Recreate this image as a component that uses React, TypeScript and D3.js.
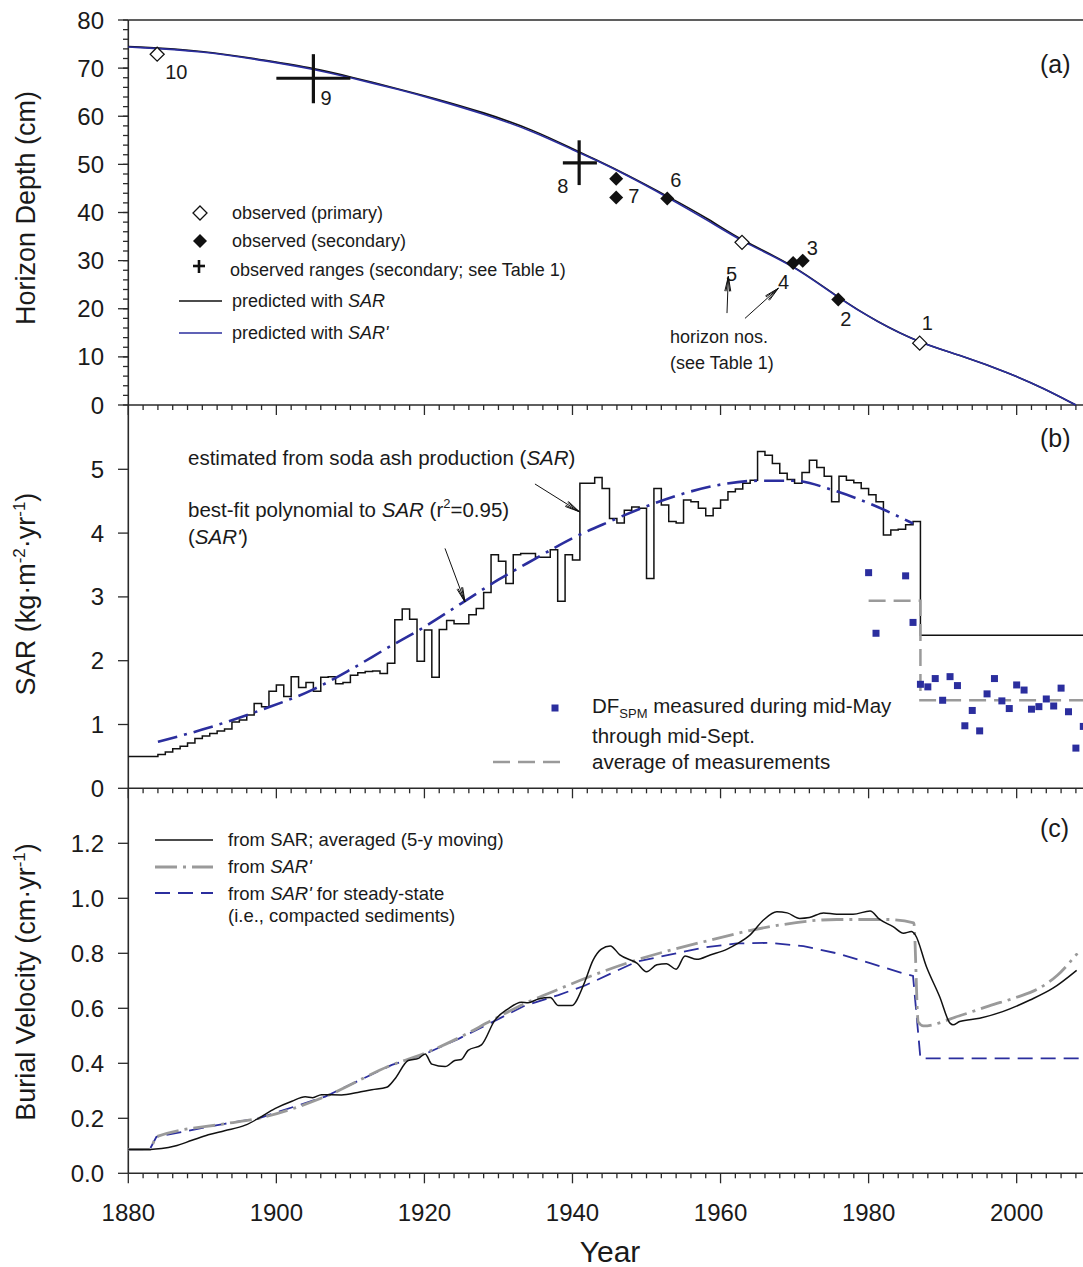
import React from "react";
import * as d3 from "d3";

// ---------- axes / ticks ----------
const YEAR_TICKS = [1880, 1900, 1920, 1940, 1960, 1980, 2000];
const DEPTH_TICKS = [0, 10, 20, 30, 40, 50, 60, 70, 80];
const SAR_TICKS = [0, 1, 2, 3, 4, 5];
const VEL_TICKS = [0, 0.2, 0.4, 0.6, 0.8, 1.0, 1.2];

// ---------- panel (a): horizon depth ----------
const depthSARprime: [number, number][] = [
  [1880, 74.4], [1890, 73.6], [1899, 71.4], [1905, 69.8], [1910, 68.0], [1916.7, 65.5],
  [1921.2, 63.6], [1928, 60.5], [1934.7, 56.9], [1940.6, 52.6], [1943, 51.0], [1947.3, 47.8],
  [1952.7, 43.3], [1958.6, 38.1], [1962.9, 33.9], [1969.8, 29.1], [1975.9, 22.2], [1981.1, 17.3],
  [1986.9, 12.9], [1992.3, 10.4], [1999.1, 6.6], [2003.6, 3.5], [2008, 0],
];
const depthSAR: [number, number][] = [
  [1880, 74.5], [1890, 73.7], [1899, 71.5], [1905, 70.0], [1910, 68.2], [1916.7, 65.6],
  [1921.2, 63.8], [1928, 60.8], [1934.7, 57.2], [1940.6, 52.8], [1943, 51.1], [1947.3, 47.9],
  [1952.7, 43.5], [1958.6, 38.5], [1962.9, 34.1], [1969.8, 29.2], [1975.9, 22.3], [1981.1, 17.3],
  [1986.9, 12.9], [1992.3, 10.4], [1999.1, 6.6], [2003.6, 3.5], [2008, 0],
];
const primaryIds = ["10", "5", "1"];
const primaryYears = [1883.9, 1962.9, 1986.9];
const primaryDepths = [72.9, 33.8, 12.85];
const secondaryIds = ["7", "7b", "6", "4", "3", "2"];
const secondaryYears = [1945.9, 1945.9, 1952.8, 1969.8, 1971.1, 1975.9];
const secondaryDepths = [47.0, 43.1, 42.9, 29.5, 30.0, 21.9];
const rangeIds = ["9", "8"];
const rangeYears = [1905, 1940.9];
const rangeDepths = [67.9, 50.3];
const rangeYearLo = [1900, 1938.7];
const rangeYearHi = [1910, 1943.3];
const rangeDepthLo = [62.7, 45.7];
const rangeDepthHi = [72.9, 55.0];

// ---------- panel (b): SAR ----------
const sarStartYear = 1880;
const sarValues = [
  0.5, 0.5, 0.5, 0.5, 0.53, 0.57, 0.62, 0.66, 0.71, 0.78, // 1880-1889
  0.82, 0.86, 0.90, 0.93, 1.04, 1.07, 1.15, 1.33, 1.28, 1.52, // 1890-1899
  1.62, 1.44, 1.75, 1.58, 1.66, 1.52, 1.74, 1.75, 1.64, 1.66, // 1900-1909
  1.77, 1.81, 1.83, 1.84, 1.80, 1.96, 2.64, 2.81, 2.65, 1.99, // 1910-1919
  2.48, 1.74, 2.49, 2.63, 2.58, 2.58, 2.72, 2.82, 3.07, 3.66, // 1920-1929
  3.56, 3.21, 3.66, 3.68, 3.68, 3.62, 3.62, 3.74, 2.93, 3.66, // 1930-1939
  3.58, 4.78, 4.78, 4.87, 4.70, 4.23, 4.16, 4.36, 4.41, 4.39, // 1940-1949
  3.29, 4.70, 4.44, 4.18, 4.16, 4.52, 4.49, 4.39, 4.27, 4.39, // 1950-1959
  4.52, 4.65, 4.69, 4.78, 4.83, 5.28, 5.22, 5.09, 4.94, 4.84, // 1960-1969
  4.78, 4.95, 5.14, 5.03, 4.89, 4.49, 4.89, 4.83, 4.79, 4.70, // 1970-1979
  4.60, 4.49, 3.97, 4.05, 4.06, 4.13, 4.18, 2.40, 2.40, 2.40, // 1980-1989
  2.40, 2.40, 2.40, 2.40, 2.40, 2.40, 2.40, 2.40, 2.40, 2.40, // 1990-1999
  2.40, 2.40, 2.40, 2.40, 2.40, 2.40, 2.40, 2.40, 2.40, 2.40, // 2000-2009
];
const sarPrime: [number, number][] = [
  [1884, 0.73], [1890, 0.92], [1898, 1.23], [1905, 1.55], [1910, 1.86], [1915, 2.2],
  [1920, 2.53], [1925, 2.9], [1930, 3.27], [1935, 3.6], [1940, 3.92], [1945, 4.18],
  [1950, 4.42], [1955, 4.62], [1960, 4.76], [1965, 4.82], [1970, 4.82], [1975, 4.68],
  [1980, 4.47], [1986, 4.15],
];
const dfYears = [1980, 1981, 1985, 1986, 1987, 1988, 1989, 1990, 1991, 1992, 1993, 1994, 1995, 1996,
  1997, 1998, 1999, 2000, 2001, 2002, 2003, 2004, 2005, 2006, 2007, 2008, 2009];
const dfValues = [3.38, 2.43, 3.33, 2.60, 1.63, 1.59, 1.72, 1.38, 1.75, 1.61, 0.98, 1.22, 0.90, 1.48,
  1.72, 1.37, 1.25, 1.62, 1.54, 1.24, 1.28, 1.40, 1.29, 1.57, 1.20, 0.63, 0.97];
const dfAverage: [number, number][] = [[1980, 2.94], [1987, 2.94], [1987, 1.38], [2009, 1.38]];

// ---------- panel (c): burial velocity ----------
const velSAR: [number, number][] = [
  [1880, 0.087], [1883, 0.087], [1884.5, 0.09], [1886.3, 0.099], [1888.6, 0.12], [1890.8, 0.14],
  [1893, 0.155], [1895.8, 0.175], [1897.6, 0.2], [1899.8, 0.235], [1902.1, 0.262], [1903.9, 0.278],
  [1904.9, 0.275], [1906.1, 0.286], [1908.8, 0.285], [1911, 0.294], [1912.9, 0.304], [1914.9, 0.313],
  [1916, 0.343], [1917.8, 0.41], [1919.2, 0.418], [1920.1, 0.434], [1921, 0.397], [1922.8, 0.388],
  [1924.1, 0.41], [1925, 0.414], [1925.9, 0.447], [1927.7, 0.467], [1929.5, 0.556], [1931.3, 0.598],
  [1933.1, 0.622], [1934, 0.62], [1935.4, 0.634], [1937, 0.639], [1938.1, 0.61], [1939.9, 0.61],
  [1941.5, 0.685], [1942.8, 0.776], [1943.9, 0.815], [1945.1, 0.827], [1946.4, 0.794], [1948.7, 0.764],
  [1950, 0.733], [1951.4, 0.758], [1952.7, 0.762], [1954, 0.742], [1955.2, 0.79], [1956.8, 0.778],
  [1958.6, 0.794], [1960.9, 0.815], [1962.2, 0.834], [1964, 0.867], [1965.8, 0.921], [1967.6, 0.951],
  [1969, 0.947], [1970.7, 0.927], [1972, 0.93], [1973.9, 0.947], [1975.7, 0.942], [1977.9, 0.942],
  [1980.2, 0.954], [1981.5, 0.923], [1983.3, 0.897], [1984.7, 0.873], [1985.8, 0.879], [1986.3, 0.867],
  [1987.8, 0.752], [1989.6, 0.642], [1991, 0.546], [1991.4, 0.54], [1992.3, 0.552], [1995, 0.564],
  [1998.1, 0.588], [2001.8, 0.63], [2004.9, 0.673], [2008.1, 0.738],
];
const velSARprime: [number, number][] = [
  [1880, 0.087], [1882.9, 0.087], [1883.8, 0.133], [1893, 0.18], [1897.6, 0.2], [1906.6, 0.279],
  [1915.6, 0.394], [1920.1, 0.437], [1924.6, 0.492], [1929.1, 0.556], [1933.6, 0.618], [1938, 0.668],
  [1942, 0.712], [1948.7, 0.776], [1957.7, 0.842], [1966.7, 0.897], [1975.7, 0.923], [1982.4, 0.923],
  [1986.1, 0.911], [1986.7, 0.55], [1987.4, 0.536], [1992.2, 0.572], [1996.3, 0.609], [2000, 0.64],
  [2002.7, 0.668], [2005.5, 0.72], [2008.2, 0.80],
];
const velSteady: [number, number][] = [
  [1880, 0.087], [1882.9, 0.087], [1883.8, 0.133], [1893, 0.18], [1897.6, 0.2], [1906.6, 0.279],
  [1915.6, 0.394], [1920.1, 0.434], [1924.6, 0.489], [1929.1, 0.549], [1933.6, 0.61], [1938.1, 0.648],
  [1941.7, 0.683], [1948.7, 0.77], [1957.7, 0.821], [1962.2, 0.836], [1966.7, 0.838], [1971.2, 0.826],
  [1975.7, 0.80], [1980.2, 0.764], [1984.7, 0.727], [1986, 0.718], [1987, 0.418], [2009, 0.418],
];

// annotation arrows (data units: [year, value] from -> to)
const arrowsA: [number, number, number, number][] = [
  [1960.87, 19.1, 1961.05, 26.7],
  [1963.3, 18.0, 1967.8, 24.25],
];
const arrowsB: [number, number, number, number][] = [
  [1934.93, 4.77, 1940.92, 4.335],
  [1922.78, 3.76, 1925.48, 2.92],
];

// ---------- layout ----------
const W = 1083;
const H = 1267;
const FONT = "'Liberation Sans', Arial, Helvetica, sans-serif";
const BLUE = "#2b2e9e";
const GRAY = "#9a9a9a";
const AXIS = "#2a2a2a";

const x = d3.scaleLinear().domain([1880, 2009]).range([128.3, 1083.3]);
const yA = d3.scaleLinear().domain([0, 80]).range([405, 20]);
const yB = d3.scaleLinear().domain([0, 6]).range([788.3, 405.5]);
const yC = d3.scaleLinear().domain([0, 1.4]).range([1173.3, 788.3]);

const labelOffsets: Record<string, [number, number]> = {
  "10": [8, 25], "5": [-16, 39], "1": [2, -13],
  "7": [12, 24], "6": [3, -12], "4": [-15, 26], "3": [4, -6], "2": [2, 26],
  "9": [7, 27], "8": [-22, 30],
};

function diamond(cx: number, cy: number, r: number) {
  return `M${cx},${cy - r}L${cx + r},${cy}L${cx},${cy + r}L${cx - r},${cy}Z`;
}

function Arrow({ x1, y1, x2, y2 }: { x1: number; y1: number; x2: number; y2: number }) {
  const ang = Math.atan2(y2 - y1, x2 - x1);
  const L = 15;
  const heads = [-0.2, -0.12, 0.12, 0.2].map((a) => {
    const t = ang + Math.PI + a;
    return `M${x2},${y2}L${x2 + L * Math.cos(t)},${y2 + L * Math.sin(t)}`;
  });
  return (
    <g stroke="#111" strokeWidth={1} fill="none">
      <line x1={x1} y1={y1} x2={x2} y2={y2} />
      <path d={heads.join("")} />
    </g>
  );
}

function XTicks({ y0 }: { y0: number }) {
  const minor = d3.range(1880, 2010, 2);
  return (
    <g stroke={AXIS} strokeWidth={1.3}>
      {minor.map((yr) => {
        const major = yr % 20 === 0;
        return <line key={yr} x1={x(yr)} x2={x(yr)} y1={y0} y2={y0 + (major ? 10 : 5)} />;
      })}
    </g>
  );
}

function YTicks({ scale, ticks, minor, fmt }: { scale: any; ticks: number[]; minor?: number[]; fmt: (v: number) => string }) {
  return (
    <g>
      <g stroke={AXIS} strokeWidth={1.3}>
        {(minor || []).map((v) => (
          <line key={"m" + v} x1={123} x2={128.3} y1={scale(v)} y2={scale(v)} />
        ))}
        {ticks.map((v) => (
          <line key={"M" + v} x1={118} x2={128.3} y1={scale(v)} y2={scale(v)} />
        ))}
      </g>
      <g fontSize={24} fill="#1a1a1a" textAnchor="end">
        {ticks.map((v) => (
          <text key={v} x={104} y={scale(v) + 8.5}>{fmt(v)}</text>
        ))}
      </g>
    </g>
  );
}

export default function App() {
  const lineA = d3.line<[number, number]>().x((d) => x(d[0])).y((d) => yA(d[1])).curve(d3.curveBasis);
  const lineB = d3.line<[number, number]>().x((d) => x(d[0])).y((d) => yB(d[1])).curve(d3.curveMonotoneX);
  const lineBlin = d3.line<[number, number]>().x((d) => x(d[0])).y((d) => yB(d[1]));
  const lineC = d3.line<[number, number]>().x((d) => x(d[0])).y((d) => yC(d[1])).curve(d3.curveMonotoneX);
  const lineClin = d3.line<[number, number]>().x((d) => x(d[0])).y((d) => yC(d[1]));

  const sarPts: [number, number][] = sarValues.map((v, i) => [sarStartYear + i, v]);
  sarPts.push([2009, sarValues[sarValues.length - 1]]);
  const stepLine = d3.line<[number, number]>().x((d) => x(d[0])).y((d) => yB(d[1])).curve(d3.curveStepAfter);

  const xL = x(1880);
  const xR = x(2009);

  return (
    <svg width={W} height={H} style={{ position: "absolute", left: 0, top: 0, background: "#fff" }} fontFamily={FONT}>
      <rect x={0} y={0} width={W} height={H} fill="#fff" />

      {/* frames */}
      <g stroke={AXIS} strokeWidth={1.6} fill="none">
        <line x1={xL} x2={xR} y1={yA(80)} y2={yA(80)} />
        <line x1={xL} x2={xL} y1={yA(80)} y2={yC(0)} />
        <line x1={xL} x2={xR} y1={yA(0)} y2={yA(0)} />
        <line x1={xL} x2={xR} y1={yB(0)} y2={yB(0)} />
        <line x1={xL} x2={xR} y1={yC(0)} y2={yC(0)} />
      </g>
      <XTicks y0={yA(0)} />
      <XTicks y0={yB(0)} />
      <XTicks y0={yC(0)} />

      <YTicks scale={yA} ticks={DEPTH_TICKS} minor={d3.range(0, 81, 2)} fmt={(v) => String(v)} />
      <YTicks scale={yB} ticks={SAR_TICKS} fmt={(v) => String(v)} />
      <YTicks scale={yC} ticks={VEL_TICKS} fmt={d3.format(".1f")} />

      {/* x tick labels */}
      <g fontSize={24} fill="#1a1a1a" textAnchor="middle">
        {YEAR_TICKS.map((yr) => (
          <text key={yr} x={x(yr)} y={1221}>{yr}</text>
        ))}
      </g>
      <text x={610} y={1262} fontSize={30} textAnchor="middle" fill="#1a1a1a">Year</text>

      {/* y titles */}
      <text transform="translate(35,208) rotate(-90)" fontSize={27} textAnchor="middle" fill="#1a1a1a">Horizon Depth (cm)</text>
      <text transform="translate(35,594) rotate(-90)" fontSize={27} textAnchor="middle" fill="#1a1a1a">
        SAR (kg·m<tspan fontSize={17} dy={-10}>-2</tspan><tspan dy={10}>·yr</tspan><tspan fontSize={17} dy={-10}>-1</tspan><tspan dy={10}>)</tspan>
      </text>
      <text transform="translate(35,982) rotate(-90)" fontSize={27} textAnchor="middle" fill="#1a1a1a">
        Burial Velocity (cm·yr<tspan fontSize={17} dy={-10}>-1</tspan><tspan dy={10}>)</tspan>
      </text>

      {/* ===== panel (a) ===== */}
      <path d={lineA(depthSAR) || ""} fill="none" stroke="#111" strokeWidth={1.6} />
      <path d={lineA(depthSARprime) || ""} fill="none" stroke={BLUE} strokeWidth={1.6} />

      {rangeIds.map((id, i) => (
        <g key={id} stroke="#111" strokeWidth={3.2}>
          <line x1={x(rangeYearLo[i])} x2={x(rangeYearHi[i])} y1={yA(rangeDepths[i])} y2={yA(rangeDepths[i])} />
          <line x1={x(rangeYears[i])} x2={x(rangeYears[i])} y1={yA(rangeDepthLo[i])} y2={yA(rangeDepthHi[i])} />
        </g>
      ))}
      {secondaryIds.map((id, i) => (
        <path key={id} d={diamond(x(secondaryYears[i]), yA(secondaryDepths[i]), 7)} fill="#111" />
      ))}
      {primaryIds.map((id, i) => (
        <path key={id} d={diamond(x(primaryYears[i]), yA(primaryDepths[i]), 7)} fill="#fff" stroke="#111" strokeWidth={1.3} />
      ))}
      <g fontSize={20} fill="#1a1a1a">
        {primaryIds.map((id, i) => (
          <text key={id} x={x(primaryYears[i]) + labelOffsets[id][0]} y={yA(primaryDepths[i]) + labelOffsets[id][1]}>{id}</text>
        ))}
        {secondaryIds.filter((id) => labelOffsets[id]).map((id) => {
          const i = secondaryIds.indexOf(id);
          return <text key={id} x={x(secondaryYears[i]) + labelOffsets[id][0]} y={yA(secondaryDepths[i]) + labelOffsets[id][1]}>{id}</text>;
        })}
        {rangeIds.map((id, i) => (
          <text key={id} x={x(rangeYears[i]) + labelOffsets[id][0]} y={yA(rangeDepths[i]) + labelOffsets[id][1]}>{id}</text>
        ))}
      </g>
      {arrowsA.map((a, i) => (
        <Arrow key={i} x1={x(a[0])} y1={yA(a[1])} x2={x(a[2])} y2={yA(a[3])} />
      ))}
      <g fontSize={18} fill="#1a1a1a">
        <text x={670} y={343}>horizon nos.</text>
        <text x={670} y={369}>(see Table 1)</text>
      </g>
      <text x={1040} y={73} fontSize={25} fill="#1a1a1a">(a)</text>

      {/* legend (a) */}
      <path d={diamond(200, 213, 7)} fill="#fff" stroke="#111" strokeWidth={1.3} />
      <path d={diamond(200, 241, 7)} fill="#111" />
      <g stroke="#111" strokeWidth={2.6}>
        <line x1={193} x2={205} y1={266} y2={266} />
        <line x1={199} x2={199} y1={260} y2={273} />
      </g>
      <line x1={179} x2={222} y1={301} y2={301} stroke="#111" strokeWidth={1.6} />
      <line x1={179} x2={222} y1={333} y2={333} stroke={BLUE} strokeWidth={1.6} />
      <g fontSize={18} fill="#1a1a1a">
        <text x={232} y={219}>observed (primary)</text>
        <text x={232} y={247}>observed (secondary)</text>
        <text x={230} y={276}>observed ranges (secondary; see Table 1)</text>
        <text x={232} y={307}>predicted with <tspan fontStyle="italic">SAR</tspan></text>
        <text x={232} y={339}>predicted with <tspan fontStyle="italic">SAR'</tspan></text>
      </g>

      {/* ===== panel (b) ===== */}
      <path d={stepLine(sarPts) || ""} fill="none" stroke="#111" strokeWidth={1.5} />
      <path d={lineB(sarPrime) || ""} fill="none" stroke={BLUE} strokeWidth={2.6} strokeDasharray="20,7,3,7" />
      <path d={lineBlin(dfAverage) || ""} fill="none" stroke={GRAY} strokeWidth={2.5} strokeDasharray="17,8" />
      {dfYears.map((yr, i) => (
        <rect key={yr} x={x(yr) - 3.5} y={yB(dfValues[i]) - 3.5} width={7} height={7} fill={BLUE} />
      ))}
      {arrowsB.map((a, i) => (
        <Arrow key={i} x1={x(a[0])} y1={yB(a[1])} x2={x(a[2])} y2={yB(a[3])} />
      ))}
      <g fontSize={20.5} fill="#1a1a1a">
        <text x={188} y={465}>estimated from soda ash production (<tspan fontStyle="italic">SAR</tspan>)</text>
        <text x={188} y={517}>best-fit polynomial to <tspan fontStyle="italic">SAR</tspan> (r<tspan fontSize={13} dy={-9}>2</tspan><tspan dy={9}>=0.95)</tspan></text>
        <text x={188} y={544}>(<tspan fontStyle="italic">SAR'</tspan>)</text>
      </g>
      <text x={1040} y={447} fontSize={25} fill="#1a1a1a">(b)</text>
      {/* legend (b) */}
      <rect x={551.5} y={704.5} width={7} height={7} fill={BLUE} />
      <line x1={493} x2={563} y1={762} y2={762} stroke={GRAY} strokeWidth={2.5} strokeDasharray="17,8" />
      <g fontSize={20.5} fill="#1a1a1a">
        <text x={592} y={713}>DF<tspan fontSize={13} dy={5}>SPM</tspan><tspan dy={-5}> measured during mid-May</tspan></text>
        <text x={592} y={743}>through mid-Sept.</text>
        <text x={592} y={769}>average of measurements</text>
      </g>

      {/* ===== panel (c) ===== */}
      <path d={lineClin(velSteady) || ""} fill="none" stroke={BLUE} strokeWidth={1.8} strokeDasharray="15,8" />
      <path d={lineC(velSARprime) || ""} fill="none" stroke={GRAY} strokeWidth={2.8} strokeDasharray="22,6,3,6" />
      <path d={lineC(velSAR) || ""} fill="none" stroke="#111" strokeWidth={1.5} />
      <text x={1040} y={837} fontSize={25} fill="#1a1a1a">(c)</text>
      {/* legend (c) */}
      <line x1={155} x2={213} y1={840} y2={840} stroke="#111" strokeWidth={1.5} />
      <line x1={155} x2={213} y1={867} y2={867} stroke={GRAY} strokeWidth={2.8} strokeDasharray="22,6,3,6" />
      <line x1={155} x2={213} y1={893} y2={893} stroke={BLUE} strokeWidth={1.8} strokeDasharray="15,8" />
      <g fontSize={18.5} fill="#1a1a1a">
        <text x={228} y={846}>from SAR; averaged (5-y moving)</text>
        <text x={228} y={873}>from <tspan fontStyle="italic">SAR'</tspan></text>
        <text x={228} y={900}>from <tspan fontStyle="italic">SAR'</tspan> for steady-state</text>
        <text x={228} y={922}>(i.e., compacted sediments)</text>
      </g>
    </svg>
  );
}
